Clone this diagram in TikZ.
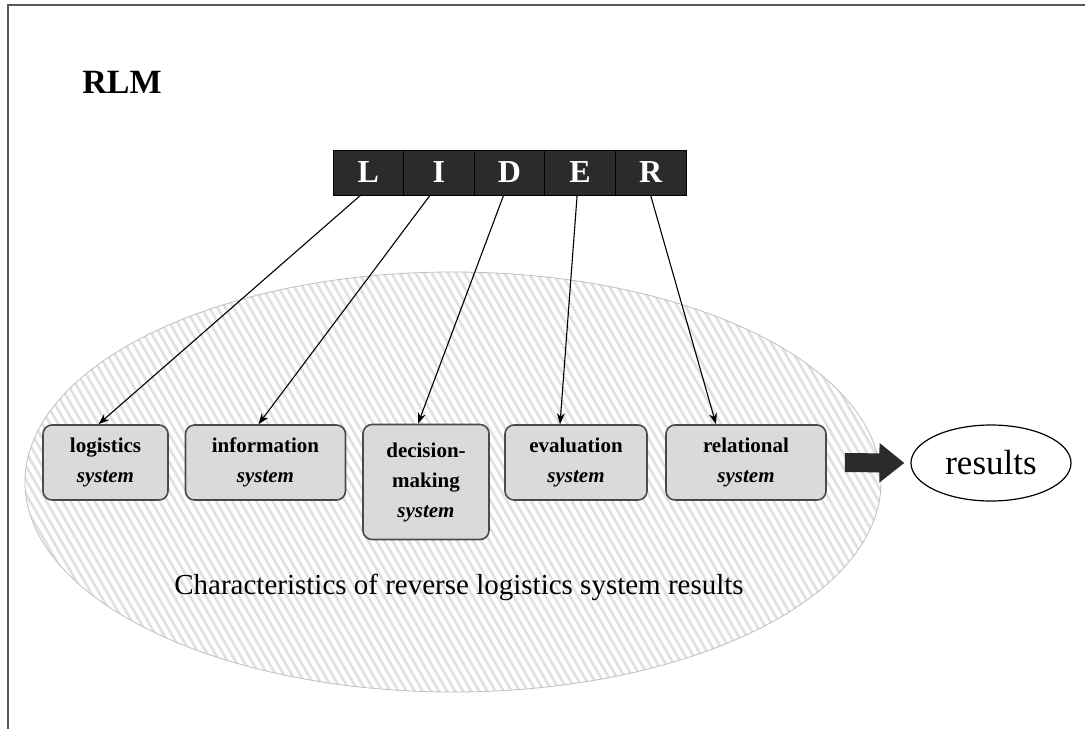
\documentclass[tikz,border=0pt]{standalone}
\usepackage{fontspec}
\setmainfont{Liberation Serif}
\usetikzlibrary{arrows.meta,shapes.geometric,patterns.meta}
\definecolor{boxgray}{HTML}{DADADA}
\definecolor{boxedge}{HTML}{4A4A4A}
\definecolor{lider}{HTML}{2B2B2B}
\definecolor{stripe}{HTML}{E0E0E0}
\begin{document}
\begin{tikzpicture}[x=1pt,y=-1pt,
  letterbox/.style={draw=black,line width=1pt,fill=lider,text=white,minimum width=70.6pt,minimum height=45pt,inner sep=0pt,font=\fontsize{32}{34}\selectfont\bfseries},
  sysbox/.style={draw=boxedge,line width=1.6pt,fill=boxgray,rounded corners=9pt,minimum height=75pt,inner sep=0pt,align=center,font=\fontsize{21}{30}\selectfont\bfseries},
  link/.style={draw=black,line width=1.1pt,-{Stealth[length=11pt,width=8pt]}},
  bigarrow/.style={draw=lider,line width=19pt,-{Triangle[length=25pt,width=38pt]}}
]
\useasboundingbox (0,0) rectangle (1085,729);
% frame
\draw[gray!70!black,line width=1.5pt] (1085,5) -- (8,5) -- (8,729);
% big ellipse
\node[ellipse,draw=gray!50,line width=0.8pt,minimum width=856pt,minimum height=420pt,inner sep=0pt,
  preaction={fill=white},pattern={Lines[angle=120,distance=7pt,line width=2.6pt]},pattern color=stripe] (big) at (453,482) {};
% title
\node[font=\fontsize{34}{36}\selectfont\bfseries] (rlm) at (122,82) {RLM};
% LIDER
\node[letterbox] (L) at (368.3,172.5) {L};
\node[letterbox] (I) at (438.9,172.5) {I};
\node[letterbox] (D) at (509.5,172.5) {D};
\node[letterbox] (E) at (580.1,172.5) {E};
\node[letterbox] (R) at (650.7,172.5) {R};
% systems
\node[sysbox,minimum width=125pt] (log) at (105.5,462.5) {logistics\\{\itshape system}};
\node[sysbox,minimum width=160pt] (inf) at (265.5,462.5) {information\\{\itshape system}};
\node[sysbox,minimum width=126pt,minimum height=115pt] (dec) at (426,482) {decision-\\making\\{\itshape system}};
\node[sysbox,minimum width=142pt] (eva) at (576,462.5) {evaluation\\{\itshape system}};
\node[sysbox,minimum width=160pt] (rel) at (746,462.5) {relational\\{\itshape system}};
% results
\node[ellipse,draw=black,line width=1.2pt,fill=white,minimum width=160pt,minimum height=76pt,inner sep=0pt,font=\fontsize{35}{37}\selectfont] (res) at (991,463) {results};
% caption
\node[font=\fontsize{29}{31}\selectfont] (cap) at (459,587) {Characteristics of reverse logistics system results};
% links
\draw[link] ([xshift=-8pt]L.south) -- ([xshift=-7pt]log.north);
\draw[link] ([xshift=-9pt]I.south) -- ([xshift=-7pt]inf.north);
\draw[link] ([xshift=-6pt]D.south) -- ([xshift=-8pt]dec.north);
\draw[link] ([xshift=-3pt]E.south) -- ([xshift=-16pt]eva.north);
\draw[link] (R.south) -- ([xshift=-30pt]rel.north);
% big arrow
\draw[bigarrow,shorten <=18pt,shorten >=6pt] (rel.east) -- (res.west);
\end{tikzpicture}
\end{document}
